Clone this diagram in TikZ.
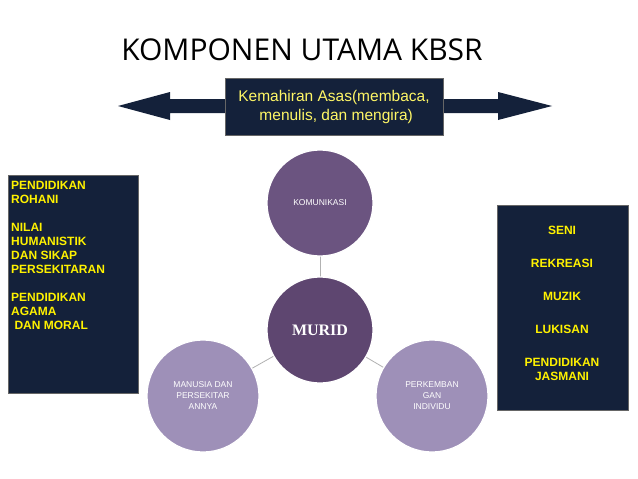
\documentclass[tikz,border=0pt]{standalone}
\usepackage{fontspec}
\setmainfont{Liberation Sans}
\newfontfamily\titlefont{Open Sans}
\newfontfamily\seriff{Liberation Serif}
\begin{document}
\begin{tikzpicture}[x=1pt,y=-1pt,
  darkbox/.style={fill=navy,draw=black!60,line width=0.6pt},
  circ/.style={circle,draw=white,line width=1.2pt,minimum size=106pt,inner sep=0pt,align=center,text=white},
  yel/.style={text=yellow,font=\bfseries\fontsize{12}{14}\selectfont,align=left,anchor=north west,inner sep=0pt},
  link/.style={draw=gray!60,line width=0.8pt}]
\definecolor{navy}{HTML}{14213A}
\definecolor{pA}{HTML}{5E4670}
\definecolor{pB}{HTML}{6B5480}
\definecolor{pC}{HTML}{9E90B8}
\useasboundingbox (0,0) rectangle (638,479);
\fill[white] (0,0) rectangle (638,479);
\node (title) at (302,50) {\titlefont\fontsize{30}{34}\selectfont KOMPONEN UTAMA KBSR};
% double arrow
\fill[navy] (118,106) -- (170,92) -- (170,99) -- (498,99) -- (498,92) -- (552,106) -- (498,120) -- (498,113) -- (170,113) -- (170,120) -- cycle;
\node[darkbox,minimum width=218pt,minimum height=57pt,text=yellow!60!white,align=center,inner sep=0pt,font=\fontsize{15.5}{19}\selectfont] (ka) at (334,106.5) {Kemahiran Asas(membaca,\\ \ menulis, dan mengira)};
% left box
\draw[darkbox] (8,175) rectangle (138,393);
\node[yel] (lt) at (11,181) {PENDIDIKAN\\ROHANI\\[14pt]NILAI\\HUMANISTIK\\DAN SIKAP\\PERSEKITARAN\\[14pt]PENDIDIKAN\\AGAMA\\\ DAN MORAL};
% right box
\draw[darkbox] (497,205) rectangle (628,410);
\node[yel,anchor=north,align=center] (rt) at (562,226) {SENI\\[19pt]REKREASI\\[19pt]MUZIK\\[19pt]LUKISAN\\[19pt]PENDIDIKAN\\JASMANI};
% circles
\coordinate (cm) at (320,330);
\coordinate (ck) at (320,203);
\coordinate (cl) at (203,396);
\coordinate (cr) at (432,396);
\draw[link] (cm) -- (ck); \draw[link] (cm) -- (cl); \draw[link] (cm) -- (cr);
\node[circ,fill=pB,font=\fontsize{8.5}{10}\selectfont] (kom) at (ck) {KOMUNIKASI};
\node[circ,fill=pC,font=\fontsize{8.5}{11}\selectfont,minimum size=112pt] (man) at (cl) {MANUSIA DAN\\PERSEKITAR\\ANNYA};
\node[circ,fill=pC,font=\fontsize{8.5}{11}\selectfont,minimum size=112pt] (per) at (cr) {PERKEMBAN\\GAN\\INDIVIDU};
\node[circ,fill=pA,font=\seriff\bfseries\fontsize{16}{18}\selectfont] (mur) at (cm) {MURID};
\end{tikzpicture}
\end{document}
